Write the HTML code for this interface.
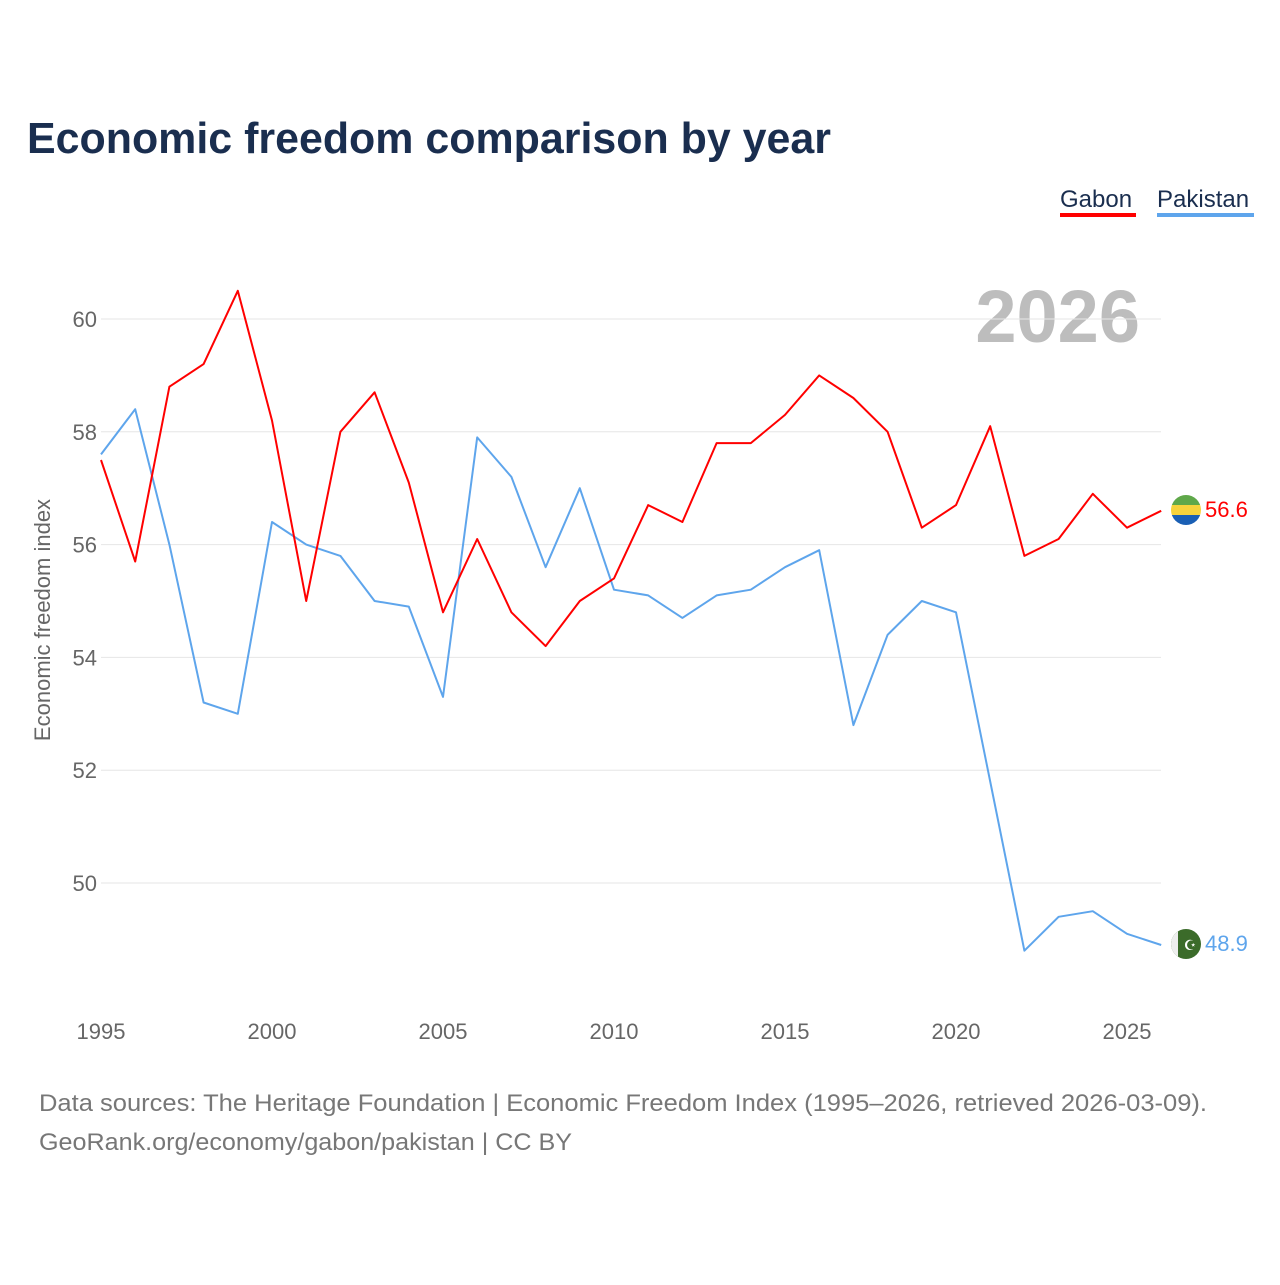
<!DOCTYPE html>
<html><head><meta charset="utf-8">
<style>
body{margin:0;background:#fff;font-family:"Liberation Sans",sans-serif;}
svg text{font-family:"Liberation Sans",sans-serif;}
</style></head>
<body>
<svg id="chart" width="1280" height="1280" xmlns="http://www.w3.org/2000/svg">
<text x="27" y="153" font-size="44" font-weight="bold" fill="#1a2e4f" textLength="804" lengthAdjust="spacingAndGlyphs">Economic freedom comparison by year</text>
<g><text x="1060" y="207" font-size="24" fill="#1a2e4f">Gabon</text><rect x="1060" y="213" width="76" height="4" fill="#ff0000"/></g>
<g><text x="1157" y="207" font-size="24" fill="#1a2e4f">Pakistan</text><rect x="1157" y="213" width="97" height="4" fill="#5ea5ec"/></g>
<text x="1140" y="342" text-anchor="end" font-size="74" font-weight="bold" fill="#bdbdbd">2026</text>
<text transform="translate(50,620) rotate(-90)" text-anchor="middle" font-size="22" fill="#666">Economic freedom index</text>
<g id="grid"></g><g id="yticks"></g><g id="xticks"></g><g id="lines"></g>
<g><clipPath id="c1"><circle cx="1186" cy="510" r="15"/></clipPath><g clip-path="url(#c1)"><rect x="1171" y="495" width="30" height="10" fill="#5fa84a"/><rect x="1171" y="505" width="30" height="10" fill="#f7d33c"/><rect x="1171" y="515" width="30" height="10" fill="#1a5fb4"/></g></g>
<g><clipPath id="c2"><circle cx="1186" cy="944" r="15"/></clipPath><g clip-path="url(#c2)"><rect x="1171" y="929" width="30" height="30" fill="#3b6b2a"/><rect x="1171" y="929" width="7" height="30" fill="#eee"/><text x="1190" y="950" font-size="14" fill="#fff" text-anchor="middle">☪</text></g></g>
<text x="1205" y="517" font-size="22" fill="#ff0000">56.6</text>
<text x="1205" y="951" font-size="22" fill="#5ea5ec">48.9</text>
<text x="39" y="1111" font-size="24" fill="#777" textLength="1168" lengthAdjust="spacingAndGlyphs">Data sources: The Heritage Foundation | Economic Freedom Index (1995–2026, retrieved 2026-03-09).</text>
<text x="39" y="1150" font-size="24" fill="#777" textLength="533" lengthAdjust="spacingAndGlyphs">GeoRank.org/economy/gabon/pakistan | CC BY</text>
</svg>
<script>
const years=[1995,1996,1997,1998,1999,2000,2001,2002,2003,2004,2005,2006,2007,2008,2009,2010,2011,2012,2013,2014,2015,2016,2017,2018,2019,2020,2021,2022,2023,2024,2025,2026];
const gabon=[57.5,55.7,58.8,59.2,60.5,58.2,55.0,58.0,58.7,57.1,54.8,56.1,54.8,54.2,55.0,55.4,56.7,56.4,57.8,57.8,58.3,59.0,58.6,58.0,56.3,56.7,58.1,55.8,56.1,56.9,56.3,56.6];
const pakistan=[57.6,58.4,56.0,53.2,53.0,56.4,56.0,55.8,55.0,54.9,53.3,57.9,57.2,55.6,57.0,55.2,55.1,54.7,55.1,55.2,55.6,55.9,52.8,54.4,55.0,54.8,51.8,48.8,49.4,49.5,49.1,48.9];
const yTicks=[50,52,54,56,58,60];
const xTicks=[1995,2000,2005,2010,2015,2020,2025];
const NS="http://www.w3.org/2000/svg";
function x(v){return 101+(v-1995)*(1127-101)/30;}
function y(v){return 883-(v-50)*(883-319)/10;}
function mk(t,a,p){const e=document.createElementNS(NS,t);for(const k in a)e.setAttribute(k,a[k]);document.getElementById(p).appendChild(e);return e;}
yTicks.forEach(t=>{
 const l=mk('line',{x1:101,x2:1161,y1:y(t),y2:y(t),stroke:'#e6e6e6','stroke-width':1},'grid');
 
 
 const tx=mk('text',{x:97,y:y(t)+8,'text-anchor':'end','font-size':22,fill:'#666'},'yticks');
 tx.textContent=t;
 
 
});
xTicks.forEach(t=>{
 const tx=mk('text',{x:x(t),y:1039,'text-anchor':'middle','font-size':22,fill:'#666'},'xticks');
 tx.textContent=t;
 
 
});
function line(vals,color,name){
 const d=vals.map((v,i)=>(i?'L':'M')+x(years[i]).toFixed(1)+' '+y(v).toFixed(1)).join(' ');
 const p=mk('path',{d:d,fill:'none',stroke:color,'stroke-width':2,'stroke-linejoin':'round'},'lines');
 
 
}
line(pakistan,'#5ea5ec','pakistan-line');
line(gabon,'#ff0000','gabon-line');
</script>
</body></html>
